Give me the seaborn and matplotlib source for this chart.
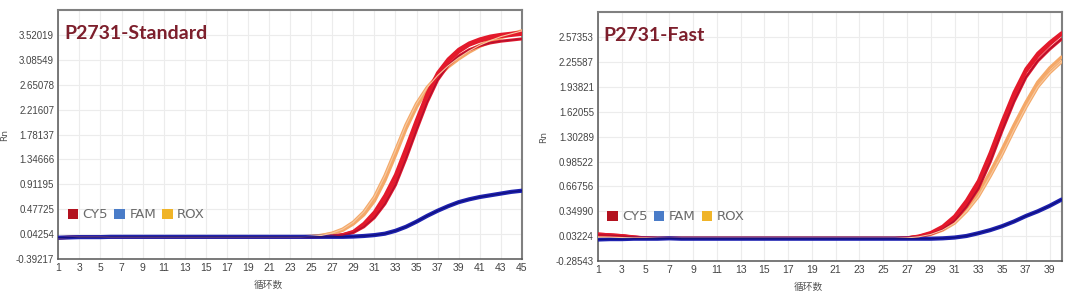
import numpy as np
import pandas as pd
import matplotlib
matplotlib.use("Agg")
import matplotlib.pyplot as plt
from matplotlib.patches import Patch
import seaborn as sns

# ---------------- data ----------------
std_cycles = list(range(1, 46))
fast_cycles = list(range(1, 41))

std_yticks = [-0.39217, 0.04254, 0.47725, 0.91195, 1.34666, 1.78137, 2.21607, 2.65078, 3.08549, 3.52019]
std_ytick_labels = ["-0.39217", "0.04254", "0.47725", "0.91195", "1.34666", "1.78137", "2.21607", "2.65078", "3.08549", "3.52019"]
fast_yticks = [-0.28543, 0.03224, 0.34990, 0.66756, 0.98522, 1.30289, 1.62055, 1.93821, 2.25587, 2.57353]
fast_ytick_labels = ["-0.28543", "0.03224", "0.34990", "0.66756", "0.98522", "1.30289", "1.62055", "1.93821", "2.25587", "2.57353"]

std_cy5_a = [-0.02, -0.015, -0.01, -0.01, -0.01, -0.005, -0.005, -0.005, -0.005, -0.005,
             -0.005, -0.005, -0.005, -0.005, -0.005, -0.005, -0.005, -0.005, -0.005, -0.005,
             -0.005, -0.005, -0.005, -0.005, -0.005, 0.0, 0.005, 0.03, 0.08, 0.20,
             0.38, 0.64, 0.98, 1.45, 1.95, 2.42, 2.80, 3.05, 3.22, 3.34,
             3.41, 3.46, 3.49, 3.51, 3.53]
std_cy5_b = [-0.02, -0.015, -0.01, -0.01, -0.01, -0.005, -0.005, -0.005, -0.005, -0.005,
             -0.005, -0.005, -0.005, -0.005, -0.005, -0.005, -0.005, -0.005, -0.005, -0.005,
             -0.005, -0.005, -0.005, -0.005, -0.005, 0.0, 0.005, 0.025, 0.07, 0.17,
             0.33, 0.57, 0.90, 1.36, 1.86, 2.34, 2.73, 2.99, 3.15, 3.26,
             3.33, 3.38, 3.41, 3.43, 3.45]
std_cy5_c = [-0.02, -0.015, -0.01, -0.01, -0.01, -0.005, -0.005, -0.005, -0.005, -0.005,
             -0.005, -0.005, -0.005, -0.005, -0.005, -0.005, -0.005, -0.005, -0.005, -0.005,
             -0.005, -0.005, -0.005, -0.005, -0.005, 0.0, 0.008, 0.035, 0.09, 0.23,
             0.43, 0.72, 1.08, 1.55, 2.04, 2.50, 2.86, 3.10, 3.27, 3.38,
             3.45, 3.50, 3.53, 3.55, 3.57]
std_rox_a = [-0.02, -0.015, -0.01, -0.01, -0.01, -0.005, -0.005, -0.005, -0.005, -0.005,
             -0.005, -0.005, -0.005, -0.005, -0.005, -0.005, -0.005, -0.005, -0.005, -0.005,
             -0.005, -0.005, -0.005, -0.005, 0.0, 0.02, 0.05, 0.11, 0.22, 0.38,
             0.62, 0.98, 1.42, 1.88, 2.26, 2.56, 2.78, 2.96, 3.10, 3.22,
             3.32, 3.40, 3.47, 3.53, 3.58]
std_rox_b = [-0.02, -0.015, -0.01, -0.01, -0.01, -0.005, -0.005, -0.005, -0.005, -0.005,
             -0.005, -0.005, -0.005, -0.005, -0.005, -0.005, -0.005, -0.005, -0.005, -0.005,
             -0.005, -0.005, -0.005, -0.005, 0.005, 0.02, 0.06, 0.13, 0.25, 0.43,
             0.69, 1.06, 1.50, 1.95, 2.32, 2.60, 2.81, 2.98, 3.12, 3.24,
             3.34, 3.42, 3.49, 3.54, 3.59]
std_fam = [-0.02, -0.015, -0.01, -0.01, -0.01, -0.005, -0.005, -0.005, -0.005, -0.005,
           -0.005, -0.005, -0.005, -0.005, -0.005, -0.005, -0.005, -0.005, -0.005, -0.005,
           -0.005, -0.005, -0.005, -0.005, -0.005, -0.005, -0.005, -0.005, 0.0, 0.01,
           0.025, 0.05, 0.10, 0.17, 0.26, 0.36, 0.45, 0.53, 0.60, 0.65,
           0.69, 0.72, 0.75, 0.78, 0.80]

fast_cy5_a = [0.06, 0.05, 0.04, 0.02, 0.01, 0.005, 0.005, 0.005, 0.005, 0.005,
              0.005, 0.005, 0.005, 0.005, 0.005, 0.005, 0.005, 0.005, 0.005, 0.005,
              0.005, 0.005, 0.005, 0.005, 0.005, 0.005, 0.01, 0.03, 0.07, 0.14,
              0.26, 0.45, 0.69, 1.04, 1.45, 1.82, 2.13, 2.33, 2.48, 2.61]
fast_cy5_b = [0.05, 0.045, 0.035, 0.02, 0.01, 0.005, 0.005, 0.005, 0.005, 0.005,
              0.005, 0.005, 0.005, 0.005, 0.005, 0.005, 0.005, 0.005, 0.005, 0.005,
              0.005, 0.005, 0.005, 0.005, 0.005, 0.005, 0.01, 0.025, 0.06, 0.12,
              0.23, 0.41, 0.64, 0.98, 1.38, 1.75, 2.06, 2.27, 2.42, 2.55]
fast_cy5_c = [0.06, 0.05, 0.04, 0.025, 0.01, 0.005, 0.005, 0.005, 0.005, 0.005,
              0.005, 0.005, 0.005, 0.005, 0.005, 0.005, 0.005, 0.005, 0.005, 0.005,
              0.005, 0.005, 0.005, 0.005, 0.005, 0.005, 0.012, 0.035, 0.08, 0.16,
              0.29, 0.49, 0.74, 1.10, 1.50, 1.87, 2.17, 2.37, 2.51, 2.63]
fast_rox_a = [0.02, 0.02, 0.015, 0.01, 0.01, 0.005, 0.005, 0.005, 0.005, 0.005,
              0.005, 0.005, 0.005, 0.005, 0.005, 0.005, 0.005, 0.005, 0.005, 0.005,
              0.005, 0.005, 0.005, 0.005, 0.005, 0.005, 0.01, 0.03, 0.06, 0.12,
              0.22, 0.38, 0.58, 0.85, 1.14, 1.45, 1.74, 2.00, 2.18, 2.32]
fast_rox_b = [0.02, 0.02, 0.015, 0.01, 0.01, 0.005, 0.005, 0.005, 0.005, 0.005,
              0.005, 0.005, 0.005, 0.005, 0.005, 0.005, 0.005, 0.005, 0.005, 0.005,
              0.005, 0.005, 0.005, 0.005, 0.005, 0.005, 0.01, 0.025, 0.055, 0.11,
              0.20, 0.35, 0.54, 0.80, 1.08, 1.39, 1.68, 1.94, 2.12, 2.26]
fast_fam = [-0.01, -0.005, -0.005, 0.0, 0.0, 0.0, 0.005, 0.0, 0.0, 0.0,
            0.0, 0.0, 0.0, 0.0, 0.0, 0.0, 0.0, 0.0, 0.0, 0.0,
            0.0, 0.0, 0.0, 0.0, 0.0, 0.0, 0.0, 0.0, 0.0, 0.005,
            0.015, 0.035, 0.07, 0.11, 0.16, 0.22, 0.29, 0.35, 0.42, 0.50]

legend_labels = ["CY5", "FAM", "ROX"]
legend_colors = ["#b3121f", "#4a7cc8", "#f0b428"]

# ---------------- style ----------------
sns.set_theme(style="white")
plt.rcParams['font.family'] = ['DejaVu Sans', 'Noto Sans CJK SC']

fig = plt.figure(figsize=(10.8, 2.94), dpi=100)
ax1 = fig.add_axes([0.054, 0.119, 0.4292, 0.847])
ax2 = fig.add_axes([0.5537, 0.112, 0.4292, 0.846])

def draw_panel(ax, cycles, title, yticks, ylabels, xmax, ytop, cy5, rox, fam):
    df_rows = []
    for name, series in cy5 + rox + fam:
        for c, v in zip(cycles, series):
            df_rows.append({"cycle": c, "Rn": v, "curve": name})
    df = pd.DataFrame(df_rows)
    styles = {}
    for name, _ in fam:
        styles[name] = ("#1f22b0", 3.0)
    for name, _ in rox:
        styles[name] = ("#f4a868", 2.4)
    for name, _ in cy5:
        styles[name] = ("#e3192b", 2.2)
    order = [n for n, _ in rox] + [n for n, _ in cy5] + [n for n, _ in fam]
    for name in order:
        col, lw = styles[name]
        sns.lineplot(data=df[df.curve == name], x="cycle", y="Rn", ax=ax,
                     color=col, lw=lw, legend=False, zorder=3)
    # thin darker lines inside the bands
    sns.lineplot(data=df[df.curve == cy5[1][0]], x="cycle", y="Rn", ax=ax,
                 color="#b01030", lw=0.9, legend=False, zorder=4)
    sns.lineplot(data=df[df.curve == rox[1][0]], x="cycle", y="Rn", ax=ax,
                 color="#f7c9a0", lw=0.8, legend=False, zorder=4)
    sns.lineplot(data=df[df.curve == fam[0][0]], x="cycle", y="Rn", ax=ax,
                 color="#101080", lw=1.0, legend=False, zorder=4)

    ax.set_xlim(1, xmax)
    ax.set_ylim(yticks[0], ytop)
    ax.set_xticks(list(range(1, xmax + 1, 2)))
    ax.set_xticklabels([str(t) for t in range(1, xmax + 1, 2)],
                       family=['Liberation Sans'], fontsize=7.5, color='#444444')
    ax.set_yticks(yticks)
    ax.set_yticklabels(ylabels, family=['Liberation Sans'], fontsize=7, color='#444444')
    ax.tick_params(axis='both', length=0, pad=3)
    ax.grid(True, color='#ececec', lw=0.8)
    ax.set_axisbelow(True)
    for s in ['left', 'bottom']:
        ax.spines[s].set_color('#555555')
        ax.spines[s].set_linewidth(1.1)
    for s in ['top', 'right']:
        ax.spines[s].set_color('#808080')
        ax.spines[s].set_linewidth(1.5)
    ax.set_xlabel("循环数", fontsize=7, color='#555555',
                  family=['Noto Sans CJK SC', 'DejaVu Sans'], labelpad=0)
    ax.xaxis.set_label_coords(0.453, -0.085)
    ax.set_ylabel("Rn", fontsize=6.5, color='#555555', labelpad=2)
    ax.yaxis.set_label_coords(-0.107, 0.5)
    ax.text(0.012, 0.905, title, transform=ax.transAxes, fontsize=14,
            fontweight='bold', color='#7d1f2c', family=['Lato', 'DejaVu Sans'],
            va='center', ha='left', zorder=6)
    handles = [Patch(facecolor=c, edgecolor='none') for c in legend_colors]
    leg = ax.legend(handles, legend_labels, ncol=3, loc='center left',
                    bbox_to_anchor=(0.0, 0.178), frameon=False,
                    handlelength=0.8, handleheight=0.8, handletextpad=0.35,
                    columnspacing=0.45, fontsize=9.5, borderaxespad=0.3)
    for t in leg.get_texts():
        t.set_color('#6a6a6a')

draw_panel(ax1, std_cycles, "P2731-Standard", std_yticks, std_ytick_labels, 45, 3.9549,
           [("std_cy5_a", std_cy5_a), ("std_cy5_b", std_cy5_b), ("std_cy5_c", std_cy5_c)],
           [("std_rox_a", std_rox_a), ("std_rox_b", std_rox_b)],
           [("std_fam", std_fam)])
draw_panel(ax2, fast_cycles, "P2731-Fast", fast_yticks, fast_ytick_labels, 40, 2.8912,
           [("fast_cy5_a", fast_cy5_a), ("fast_cy5_b", fast_cy5_b), ("fast_cy5_c", fast_cy5_c)],
           [("fast_rox_a", fast_rox_a), ("fast_rox_b", fast_rox_b)],
           [("fast_fam", fast_fam)])

fig.savefig("out.png", dpi=100, facecolor='white')
